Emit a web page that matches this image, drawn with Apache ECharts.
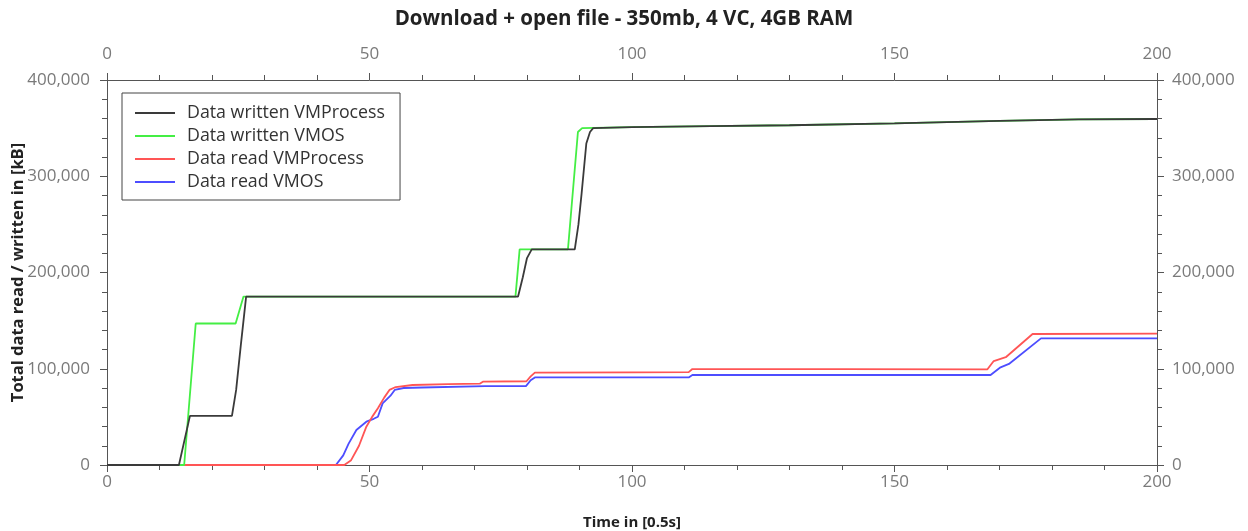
<!DOCTYPE html>
<html>
<head>
<meta charset="utf-8">
<script src="https://cdn.jsdelivr.net/npm/echarts@6/dist/echarts.min.js"></script>
<style>html,body{margin:0;padding:0;background:#fff}#c{width:1248px;height:531px}</style>
</head>
<body>
<div id="c"></div>
<script>
const title = 'Download + open file - 350mb, 4 VC, 4GB RAM';
const seriesNames = ['Data written VMProcess', 'Data written VMOS', 'Data read VMProcess', 'Data read VMOS'];
const seriesColors = ['#3a3a3a', '#44ee44', '#ff5555', '#4d4dff'];

const writtenProcX = [0, 13.7, 15.8, 23.8, 24.6, 25.5, 26.5, 78.3, 79.2, 80.0, 80.9, 89.1, 89.8, 90.4, 91.3, 92.0, 92.6, 100, 115, 130, 150, 170, 185, 200];
const writtenProcY = [0, 0, 51000, 51000, 78000, 125000, 175000, 175000, 195000, 215000, 224000, 224000, 250000, 282000, 334000, 346000, 350000, 351000, 352000, 353000, 355000, 357500, 359000, 359500];

const writtenOsX = [0, 14.7, 16.9, 24.5, 26.0, 77.8, 78.6, 87.8, 89.7, 90.5, 100, 115, 130, 150, 170, 185, 200];
const writtenOsY = [0, 0, 147000, 147000, 175000, 175000, 224000, 224000, 346000, 350000, 351000, 352000, 353000, 355000, 357500, 359000, 359500];

const readProcX = [0, 45.2, 46.5, 48.0, 49.4, 50.5, 51.6, 52.8, 53.8, 55.0, 58.2, 65, 71.0, 71.6, 79.9, 80.7, 81.5, 100, 110.8, 111.5, 140, 167.7, 168.9, 171.2, 176.3, 200];
const readProcY = [0, 0, 5000, 20000, 39800, 50000, 58900, 70000, 78000, 81000, 83100, 84000, 84500, 86600, 87000, 92000, 95900, 96300, 96500, 99700, 99700, 99400, 108000, 112000, 136100, 136500];

const readOsX = [0, 43.6, 45.0, 46.0, 47.5, 49.4, 50.8, 51.6, 52.5, 54.0, 54.8, 56.5, 60, 72, 79.8, 80.7, 81.5, 100, 110.8, 111.5, 140, 168.3, 170.2, 171.8, 177.9, 200];
const readOsY = [0, 0, 10000, 22000, 36400, 45000, 48000, 50200, 64000, 72000, 78000, 80000, 80500, 82000, 82000, 88000, 91000, 91000, 91000, 93500, 93500, 93500, 101500, 105000, 131600, 131600];

const xTicks = [0, 50, 100, 150, 200];
const yTicks = [0, 100000, 200000, 300000, 400000];

function pairs(xs, ys) { return xs.map((x, i) => [x, ys[i]]); }
const allX = [writtenProcX, writtenOsX, readProcX, readOsX];
const allY = [writtenProcY, writtenOsY, readProcY, readOsY];

const FONT = 'Open Sans';
const axisLine = { lineStyle: { color: '#555', width: 1 } };
const labelStyle = { color: '#7a7a7a', fontSize: 17, fontFamily: FONT };
const fmtY = v => v.toLocaleString('en-US');

function xAx(pos) {
  return {
    type: 'value', position: pos, min: xTicks[0], max: xTicks[xTicks.length - 1], interval: 50,
    axisLine: Object.assign({ onZero: false }, axisLine),
    axisTick: { show: true, length: 7, lineStyle: { color: '#555' } },
    minorTick: { show: true, splitNumber: 5, length: 5, lineStyle: { color: '#555' } },
    splitLine: { show: false },
    axisLabel: Object.assign({ margin: pos === 'top' ? 17 : 9 }, labelStyle),
    name: pos === 'bottom' ? 'Time in [0.5s]' : '',
    nameLocation: 'middle', nameGap: 50, nameMoveOverlap: false,
    nameTextStyle: { fontFamily: FONT, fontWeight: 'bold', fontSize: 15, color: '#222' }
  };
}
function yAx(pos) {
  return {
    type: 'value', position: pos, min: yTicks[0], max: yTicks[yTicks.length - 1], interval: 100000,
    axisLine: Object.assign({ show: true, onZero: false }, axisLine),
    axisTick: { show: true, length: 7, lineStyle: { color: '#555' } },
    minorTick: { show: true, splitNumber: 5, length: 5, lineStyle: { color: '#555' } },
    splitLine: { show: false },
    axisLabel: Object.assign({ margin: pos === 'left' ? 17 : 15, formatter: fmtY }, labelStyle),
    name: pos === 'left' ? 'Total data read / written in [kB]' : '',
    nameLocation: 'middle', nameGap: 80, nameRotate: 90, nameMoveOverlap: false,
    nameTextStyle: { fontFamily: FONT, fontWeight: 'bold', fontSize: 16.5, color: '#222' }
  };
}

const chart = echarts.init(document.getElementById('c'), null, { renderer: 'canvas' });
chart.setOption({
  animation: false,
  backgroundColor: '#fff',
  title: { text: title, left: 'center', top: 4, textStyle: { fontFamily: FONT, fontWeight: 'bold', fontSize: 20.5, color: '#222' } },
  grid: { left: 107, right: 91, top: 80, bottom: 66, containLabel: false, outerBoundsMode: 'none' },
  xAxis: [xAx('bottom'), xAx('top')],
  yAxis: [yAx('left'), yAx('right')],
  legend: {
    orient: 'vertical', left: 122, top: 93,
    padding: [11, 15, 9, 13],
    borderColor: '#444', borderWidth: 1,
    itemWidth: 40, itemHeight: 2, itemGap: 5,
    icon: 'rect',
    textStyle: { fontFamily: FONT, fontSize: 17.8, color: '#333', lineHeight: 18, padding: [0, 0, 0, 7] },
    data: seriesNames
  },
  series: seriesNames.map((n, i) => ({
    name: n, type: 'line', xAxisIndex: 0, yAxisIndex: 0,
    data: pairs(allX[i], allY[i]),
    showSymbol: false, symbol: 'none',
    lineStyle: { color: seriesColors[i], width: 1.8 },
    itemStyle: { color: seriesColors[i] },
    z: 10 - i
  }))
});
</script>
</body>
</html>
